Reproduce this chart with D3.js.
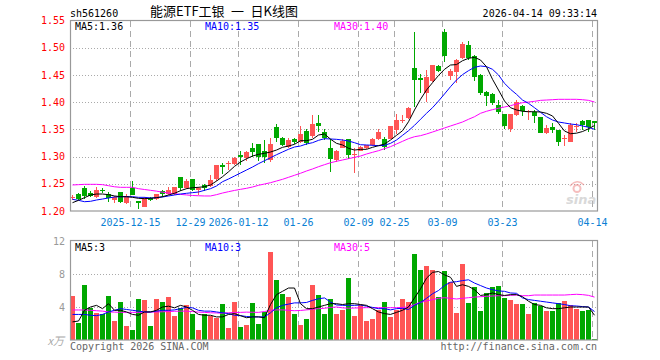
<!DOCTYPE html>
<html>
<head>
<meta charset="utf-8">
<script src="https://cdn.jsdelivr.net/npm/d3@7/dist/d3.min.js"></script>
<style>
  html, body { margin: 0; padding: 0; background: #fff; }
  svg text { font-family: "DejaVu Sans Mono", monospace; font-size: 10px; }
</style>
</head>
<body>
<svg id="chart" width="660" height="360"></svg>
<script>
// trading days shown on the chart
const dates = [
  "2025-12-01","2025-12-02","2025-12-03","2025-12-04","2025-12-05","2025-12-08","2025-12-09","2025-12-10","2025-12-11","2025-12-12",
  "2025-12-15","2025-12-16","2025-12-17","2025-12-18","2025-12-19","2025-12-22","2025-12-23","2025-12-24","2025-12-25","2025-12-26",
  "2025-12-29","2025-12-30","2025-12-31","2026-01-05","2026-01-06","2026-01-07","2026-01-08","2026-01-09","2026-01-12","2026-01-13",
  "2026-01-14","2026-01-15","2026-01-16","2026-01-19","2026-01-20","2026-01-21","2026-01-22","2026-01-23","2026-01-26","2026-01-27",
  "2026-01-28","2026-01-29","2026-01-30","2026-02-02","2026-02-03","2026-02-04","2026-02-05","2026-02-06","2026-02-09","2026-02-10",
  "2026-02-11","2026-02-12","2026-02-13","2026-02-24","2026-02-25","2026-02-26","2026-02-27","2026-03-02","2026-03-03","2026-03-04",
  "2026-03-05","2026-03-06","2026-03-09","2026-03-10","2026-03-11","2026-03-12","2026-03-13","2026-03-16","2026-03-17","2026-03-18",
  "2026-03-19","2026-03-20","2026-03-23","2026-03-24","2026-03-25","2026-03-26","2026-03-27","2026-03-30","2026-03-31","2026-04-01",
  "2026-04-02","2026-04-03","2026-04-07","2026-04-08","2026-04-09","2026-04-10","2026-04-13","2026-04-14"
];

const open = [
  1.224,1.231,1.243,1.233,1.226,1.239,1.232,1.221,1.234,1.214,
  1.242,1.218,1.208,1.223,1.222,1.237,1.231,1.231,1.263,1.242,
  1.259,1.239,1.247,1.246,1.258,1.285,1.286,1.286,1.302,1.298,
  1.315,1.323,1.310,1.294,1.354,1.335,1.318,1.332,1.327,1.347,
  1.337,1.361,1.346,1.316,1.293,1.316,1.332,1.302,1.311,1.316,
  1.321,1.333,1.332,1.333,1.348,1.365,1.370,1.463,1.445,1.417,
  1.438,1.466,1.529,1.448,1.455,1.481,1.505,1.484,1.450,1.418,
  1.415,1.395,1.378,1.350,1.377,1.392,1.381,1.382,1.372,1.343,
  1.354,1.348,1.332,1.327,1.355,1.366,1.367,1.366
];
const high = [
  1.229,1.233,1.246,1.237,1.245,1.243,1.235,1.227,1.235,1.232,
  1.256,1.219,1.225,1.225,1.232,1.238,1.244,1.245,1.263,1.259,
  1.259,1.244,1.249,1.266,1.285,1.289,1.292,1.299,1.310,1.311,
  1.325,1.324,1.330,1.334,1.359,1.336,1.335,1.335,1.356,1.350,
  1.376,1.376,1.350,1.332,1.312,1.332,1.333,1.316,1.319,1.322,
  1.334,1.350,1.336,1.357,1.379,1.376,1.391,1.529,1.452,1.459,
  1.469,1.468,1.534,1.460,1.480,1.511,1.513,1.486,1.452,1.420,
  1.416,1.404,1.379,1.379,1.404,1.394,1.386,1.386,1.373,1.358,
  1.361,1.349,1.340,1.361,1.361,1.367,1.368,1.366
];
const low = [
  1.221,1.221,1.222,1.225,1.224,1.233,1.217,1.215,1.215,1.213,
  1.229,1.204,1.207,1.219,1.221,1.226,1.230,1.229,1.237,1.240,
  1.236,1.229,1.237,1.244,1.256,1.268,1.275,1.285,1.285,1.291,
  1.300,1.291,1.289,1.290,1.326,1.320,1.316,1.323,1.325,1.321,
  1.334,1.345,1.331,1.272,1.290,1.315,1.295,1.269,1.310,1.314,
  1.320,1.331,1.312,1.332,1.342,1.361,1.369,1.391,1.417,1.400,
  1.437,1.455,1.474,1.440,1.435,1.480,1.478,1.438,1.414,1.392,
  1.394,1.378,1.350,1.346,1.375,1.375,1.367,1.361,1.343,1.342,
  1.343,1.319,1.319,1.326,1.346,1.349,1.346,1.348
];
const close = [
  1.226,1.222,1.228,1.228,1.239,1.238,1.223,1.226,1.217,1.227,
  1.229,1.214,1.223,1.221,1.231,1.231,1.239,1.244,1.243,1.255,
  1.239,1.243,1.243,1.257,1.284,1.280,1.289,1.298,1.299,1.309,
  1.309,1.300,1.299,1.323,1.335,1.321,1.330,1.327,1.341,1.325,
  1.360,1.356,1.334,1.296,1.311,1.328,1.302,1.304,1.318,1.321,
  1.332,1.345,1.318,1.356,1.367,1.368,1.389,1.440,1.441,1.446,
  1.468,1.457,1.484,1.457,1.477,1.507,1.481,1.446,1.416,1.412,
  1.398,1.381,1.356,1.378,1.400,1.384,1.384,1.375,1.344,1.352,
  1.349,1.327,1.334,1.358,1.357,1.358,1.354,1.362
];

// price moving averages as drawn
const ma5 = [
  1.2153,1.2196,1.2245,1.2294,1.2312,1.2312,1.2300,1.2276,1.2263,1.2263,
  1.2251,1.2233,1.2227,1.2233,1.2245,1.2263,1.2294,1.2325,1.2373,1.2410,
  1.2428,1.2435,1.2446,1.2478,1.2550,1.2630,1.2720,1.2820,1.2900,1.2960,
  1.3010,1.3041,1.3060,1.3084,1.3120,1.3170,1.3194,1.3225,1.3292,1.3292,
  1.3317,1.3396,1.3415,1.3320,1.3243,1.3213,1.3152,1.3120,1.3133,1.3133,
  1.3170,1.3200,1.3231,1.3304,1.3390,1.3475,1.3640,1.3856,1.4052,1.4223,
  1.4357,1.4490,1.4603,1.4682,1.4690,1.4761,1.4805,1.4823,1.4774,1.4651,
  1.4420,1.4223,1.4021,1.3898,1.3856,1.3832,1.3824,1.3824,1.3819,1.3795,
  1.3746,1.3611,1.3470,1.3420,1.3430,1.3460,1.3510,1.3570
];
const ma10 = [
  1.2215,1.2196,1.2171,1.2178,1.2202,1.2220,1.2239,1.2257,1.2263,1.2263,
  1.2263,1.2251,1.2251,1.2239,1.2245,1.2257,1.2276,1.2294,1.2312,1.2325,
  1.2337,1.2349,1.2380,1.2410,1.2460,1.2538,1.2588,1.2643,1.2698,1.2753,
  1.2808,1.2869,1.2924,1.2979,1.3034,1.3084,1.3134,1.3176,1.3194,1.3231,
  1.3255,1.3298,1.3329,1.3323,1.3317,1.3304,1.3286,1.3255,1.3218,1.3213,
  1.3207,1.3200,1.3207,1.3243,1.3304,1.3390,1.3475,1.3574,1.3685,1.3795,
  1.3898,1.4020,1.4150,1.4284,1.4407,1.4505,1.4578,1.4640,1.4664,1.4652,
  1.4603,1.4499,1.4346,1.4236,1.4144,1.4039,1.3978,1.3898,1.3813,1.3732,
  1.3672,1.3635,1.3617,1.3598,1.3586,1.3562,1.3538,1.3501
];
const ma30 = [
  1.2478,1.2484,1.2490,1.2490,1.2490,1.2484,1.2465,1.2445,1.2435,1.2435,
  1.2435,1.2410,1.2395,1.2380,1.2365,1.2345,1.2330,1.2315,1.2305,1.2295,
  1.2285,1.2280,1.2276,1.2276,1.2300,1.2330,1.2355,1.2378,1.2398,1.2417,
  1.2441,1.2472,1.2496,1.2520,1.2551,1.2582,1.2619,1.2656,1.2693,1.2735,
  1.2772,1.2814,1.2851,1.2887,1.2913,1.2937,1.2961,1.2986,1.3010,1.3047,
  1.3078,1.3108,1.3145,1.3182,1.3231,1.3280,1.3329,1.3365,1.3384,1.3415,
  1.3451,1.3488,1.3525,1.3562,1.3598,1.3635,1.3685,1.3732,1.3795,1.3832,
  1.3862,1.3887,1.3911,1.3935,1.3966,1.3990,1.4002,1.4015,1.4033,1.4039,
  1.4045,1.4052,1.4052,1.4052,1.4052,1.4045,1.4033,1.4002
];

// volume (x万) and its moving averages
const volume = [
  5.37,2.10,6.67,3.92,3.23,3.11,5.37,2.30,4.65,1.70,
  1.21,4.97,4.85,1.70,4.97,4.61,5.21,2.91,3.92,4.24,
  3.15,1.21,3.11,2.91,2.63,4.36,1.49,4.61,1.62,1.82,
  4.48,1.94,3.35,10.71,7.27,5.58,5.25,3.15,1.82,2.50,
  6.67,5.45,3.15,4.97,3.15,3.64,7.56,2.95,4.24,2.30,
  2.55,3.64,4.61,2.83,3.64,4.97,4.61,10.42,8.53,9.01,
  8.53,5.25,8.40,7.07,3.31,9.21,4.53,6.46,3.52,5.66,
  6.46,6.55,5.13,4.85,4.36,4.36,3.15,4.48,4.12,3.52,
  3.52,4.48,4.73,4.24,3.76,3.52,3.64,0.12
];
const vma5 = [
  2.2,2.3,3.6,4.0,4.2,3.8,4.4,3.6,3.6,3.4,
  3.1,3.0,3.4,3.4,3.6,4.0,4.1,3.9,4.2,4.0,
  3.6,3.1,3.0,3.0,2.8,2.8,3.1,3.2,2.95,2.7,
  2.8,2.8,2.7,4.3,5.5,5.9,6.3,6.3,4.4,3.8,
  3.8,4.0,4.2,4.4,4.4,4.3,4.4,4.4,4.3,4.2,
  3.8,3.4,3.2,3.1,3.35,3.6,4.0,5.1,6.2,7.5,
  8.2,8.3,7.9,7.6,6.5,6.7,6.5,6.1,5.4,5.5,
  5.7,5.5,5.4,5.5,5.5,5.25,4.7,4.3,4.2,3.9,
  3.8,3.8,3.9,4.0,4.0,4.0,4.0,3.0
];
const vma10 = [
  3.1,3.1,3.1,3.0,2.95,3.1,3.4,3.6,3.8,3.7,
  3.6,3.5,3.4,3.4,3.5,3.6,3.6,3.65,3.8,3.95,
  3.9,3.6,3.5,3.5,3.4,3.3,3.2,3.0,2.95,2.85,
  2.8,2.8,2.8,3.3,3.9,4.2,4.35,4.5,4.5,4.55,
  4.8,5.0,5.1,4.6,4.25,4.2,4.2,4.2,4.24,4.1,
  3.95,3.8,3.8,3.65,3.8,3.84,3.7,4.2,4.55,5.05,
  5.6,6.0,6.6,7.0,7.07,7.2,7.3,6.9,6.6,6.3,
  6.1,5.95,5.9,5.7,5.66,5.1,4.9,4.8,4.7,4.6,
  4.5,4.4,4.3,4.15,4.12,4.05,4.0,3.45
];
const vma30 = [
  3.64,3.64,3.64,3.6,3.55,3.5,3.4,3.38,3.35,3.35,
  3.35,3.35,3.35,3.38,3.4,3.42,3.45,3.48,3.5,3.5,
  3.45,3.38,3.35,3.3,3.28,3.25,3.3,3.33,3.35,3.38,
  3.36,3.35,3.45,3.6,3.65,3.65,3.6,3.55,3.58,3.65,
  3.72,3.8,3.85,3.95,4.0,3.9,3.85,3.88,3.9,3.92,
  3.92,3.92,3.92,3.92,3.92,3.95,4.0,4.3,4.57,4.73,
  4.89,5.05,5.13,5.05,4.97,5.05,5.13,5.2,5.25,5.29,
  5.33,5.37,5.37,5.41,5.45,5.37,5.37,5.45,5.45,5.45,
  5.45,5.45,5.45,5.5,5.54,5.5,5.41,5.2
];

// axis ticks
const dateTicks = ["2025-12-15","2025-12-29","2026-01-12","2026-01-26","2026-02-09","2026-02-25","2026-03-09","2026-03-23","2026-04-14"];
const dateTickLabels = ["2025-12-15","12-29","2026-01-12","01-26","02-09","02-25","03-09","03-23","04-14"];
const priceTicks = [1.20, 1.25, 1.30, 1.35, 1.40, 1.45, 1.50, 1.55];
const volTicks = [4, 8, 12];

const RED = "#ff5555";
const GREEN = "#00a800";
const GRID = "#aaaaaa";
const FRAME = "#999999";
const MA_COLORS = ["#000000", "#0000ff", "#ff00ff"];

const LEFT = 70, RIGHT = 597;
const PRICE_TOP = 20.5, PRICE_BOTTOM = 211;
const VOL_TOP = 240.5, VOL_BOTTOM = 340;

const svg = d3.select("#chart");

const x = d3.scaleBand()
    .domain(dates)
    .range([LEFT, LEFT + 6 * dates.length])
    .paddingInner(0)
    .paddingOuter(0);
const barW = x.bandwidth() - 1;
const mid = d => x(d) + 2.5;

const yPrice = d3.scaleLinear().domain([1.20, 1.55]).range([PRICE_BOTTOM, PRICE_TOP]);
const yVol = d3.scaleLinear().domain([0, 12]).range([VOL_BOTTOM, 241]);

const isUp = i => close[i] >= open[i];

svg.append("rect").attr("width", 660).attr("height", 360).attr("fill", "#fff");

drawGrid(yPrice, priceTicks.slice(1, -1), PRICE_TOP, PRICE_BOTTOM);
drawGrid(yVol, volTicks.slice(0, -1), VOL_TOP, VOL_BOTTOM);
drawWatermark();
drawCandles();
drawVolume();

drawLine(ma30, yPrice, MA_COLORS[2]);
drawLine(ma10, yPrice, MA_COLORS[1]);
drawLine(ma5, yPrice, MA_COLORS[0]);
drawLine(vma30, yVol, MA_COLORS[2]);
drawLine(vma10, yVol, MA_COLORS[1]);
drawLine(vma5, yVol, MA_COLORS[0]);

drawFrame(PRICE_TOP, PRICE_BOTTOM);
drawFrame(VOL_TOP, VOL_BOTTOM);
drawAxes();
drawTexts();

function drawGrid(yScale, hTicks, top, bottom) {
    const g = svg.append("g").attr("shape-rendering", "crispEdges");
    g.selectAll(".h").data(hTicks).enter().append("line")
        .attr("x1", LEFT).attr("x2", RIGHT)
        .attr("y1", d => Math.round(yScale(d)) + 0.5)
        .attr("y2", d => Math.round(yScale(d)) + 0.5)
        .attr("stroke", GRID).attr("stroke-dasharray", "1,2");
    g.selectAll(".v").data(dateTicks).enter().append("line")
        .attr("x1", d => x(d) + 0.5).attr("x2", d => x(d) + 0.5)
        .attr("y1", top).attr("y2", bottom)
        .attr("stroke", GRID).attr("stroke-dasharray", "6,4");
}

function drawFrame(top, bottom) {
    svg.append("rect")
        .attr("x", LEFT + 0.5).attr("y", top)
        .attr("width", RIGHT - LEFT).attr("height", bottom - top)
        .attr("fill", "none").attr("stroke", FRAME).attr("stroke-width", 1.2);
}

function drawCandles() {
    const g = svg.append("g").attr("shape-rendering", "crispEdges");
    const idx = d3.range(dates.length);
    g.selectAll("line").data(idx).enter().append("line")
        .attr("x1", i => mid(dates[i])).attr("x2", i => mid(dates[i]))
        .attr("y1", i => yPrice(high[i])).attr("y2", i => yPrice(low[i]))
        .attr("stroke", i => isUp(i) ? RED : GREEN);
    g.selectAll("rect").data(idx).enter().append("rect")
        .attr("x", i => x(dates[i]))
        .attr("width", barW)
        .attr("y", i => yPrice(Math.max(open[i], close[i])))
        .attr("height", i => Math.max(1, Math.abs(yPrice(open[i]) - yPrice(close[i]))))
        .attr("fill", i => isUp(i) ? RED : GREEN);
}

function drawVolume() {
    svg.append("g").attr("shape-rendering", "crispEdges")
        .selectAll("rect").data(d3.range(dates.length)).enter().append("rect")
        .attr("x", i => x(dates[i]))
        .attr("width", barW)
        .attr("y", i => yVol(volume[i]))
        .attr("height", i => VOL_BOTTOM - yVol(volume[i]))
        .attr("fill", i => isUp(i) ? RED : GREEN);
}

function drawLine(values, yScale, color) {
    const line = d3.line()
        .x((v, i) => mid(dates[i]))
        .y(v => yScale(v));
    svg.append("path")
        .datum(values)
        .attr("d", line)
        .attr("fill", "none")
        .attr("stroke", color)
        .attr("stroke-width", 1);
}

function drawAxes() {
    const pAxis = svg.append("g")
        .attr("transform", "translate(" + LEFT + ",0)")
        .call(d3.axisLeft(yPrice).tickValues(priceTicks).tickFormat(d3.format(".2f")).tickSize(0).tickPadding(5));
    pAxis.select(".domain").remove();
    pAxis.selectAll("text").attr("fill", "#ff0000").attr("font-family", "DejaVu Sans Mono").attr("font-size", 10);

    const vAxis = svg.append("g")
        .attr("transform", "translate(" + LEFT + ",0)")
        .call(d3.axisLeft(yVol).tickValues(volTicks).tickSize(0).tickPadding(5));
    vAxis.select(".domain").remove();
    vAxis.selectAll("text").attr("fill", "#999").attr("font-family", "DejaVu Sans").attr("font-size", 11);

    svg.append("g").selectAll("text").data(dateTicks).enter().append("text")
        .attr("x", d => x(d) + 0.5)
        .attr("y", 225.5)
        .attr("text-anchor", "middle")
        .attr("fill", "#0a80d4")
        .text((d, i) => dateTickLabels[i]);
}

function drawTexts() {
    const last = dates.length - 1;
    const f2 = d3.format(".2f");

    svg.append("text").attr("x", 70).attr("y", 16.5).text("sh561260");
    svg.append("text").attr("x", 150).attr("y", 16)
        .style("font-family", "'Noto Sans CJK SC', sans-serif").style("font-size", "13px")
        .text("能源ETF工银\u2002一\u2002日K线图");
    svg.append("text").attr("x", RIGHT).attr("y", 16.5).attr("text-anchor", "end")
        .text("2026-04-14 09:33:14");

    const legendX = [75, 205, 334];
    const priceMA = [["MA5", ma5], ["MA10", ma10], ["MA30", ma30]];
    const volMA = [["MA5", vma5], ["MA10", vma10], ["MA30", vma30]];
    priceMA.forEach((m, k) => {
        svg.append("text").attr("x", legendX[k]).attr("y", 29.5).attr("fill", MA_COLORS[k])
            .text(m[0] + ":" + f2(m[1][last]));
    });
    volMA.forEach((m, k) => {
        svg.append("text").attr("x", legendX[k]).attr("y", 250.5).attr("fill", MA_COLORS[k])
            .text(m[0] + ":" + Math.round(m[1][last]));
    });

    svg.append("text").attr("x", 64).attr("y", 344.5).attr("text-anchor", "end")
        .attr("fill", "#aaa").style("font-style", "italic")
        .style("font-family", "'Noto Sans CJK SC', sans-serif").style("font-size", "11px")
        .text("x万");
    svg.append("text").attr("x", 70).attr("y", 349.5).attr("fill", "#666")
        .text("Copyright 2026 SINA.COM");
    svg.append("text").attr("x", RIGHT).attr("y", 349.5).attr("text-anchor", "end").attr("fill", "#666")
        .text("http://finance.sina.com.cn");
}

function drawWatermark() {
    // faint sina logo in the lower right of the price panel
    const g = svg.append("g").attr("opacity", 0.55);
    g.append("circle").attr("cx", 577).attr("cy", 188.5).attr("r", 3.5)
        .attr("fill", "none").attr("stroke", "#f08a8a").attr("stroke-width", 2);
    g.append("path").attr("d", "M570,186 Q577,178 584,185")
        .attr("fill", "none").attr("stroke", "#f08a8a").attr("stroke-width", 1.5);
    g.append("text").attr("x", 566).attr("y", 203.5)
        .style("font-family", "'DejaVu Sans', sans-serif").style("font-size", "13px")
        .style("font-weight", "bold").style("font-style", "italic")
        .attr("fill", "#bbb").text("sina");
}
</script>
</body>
</html>
